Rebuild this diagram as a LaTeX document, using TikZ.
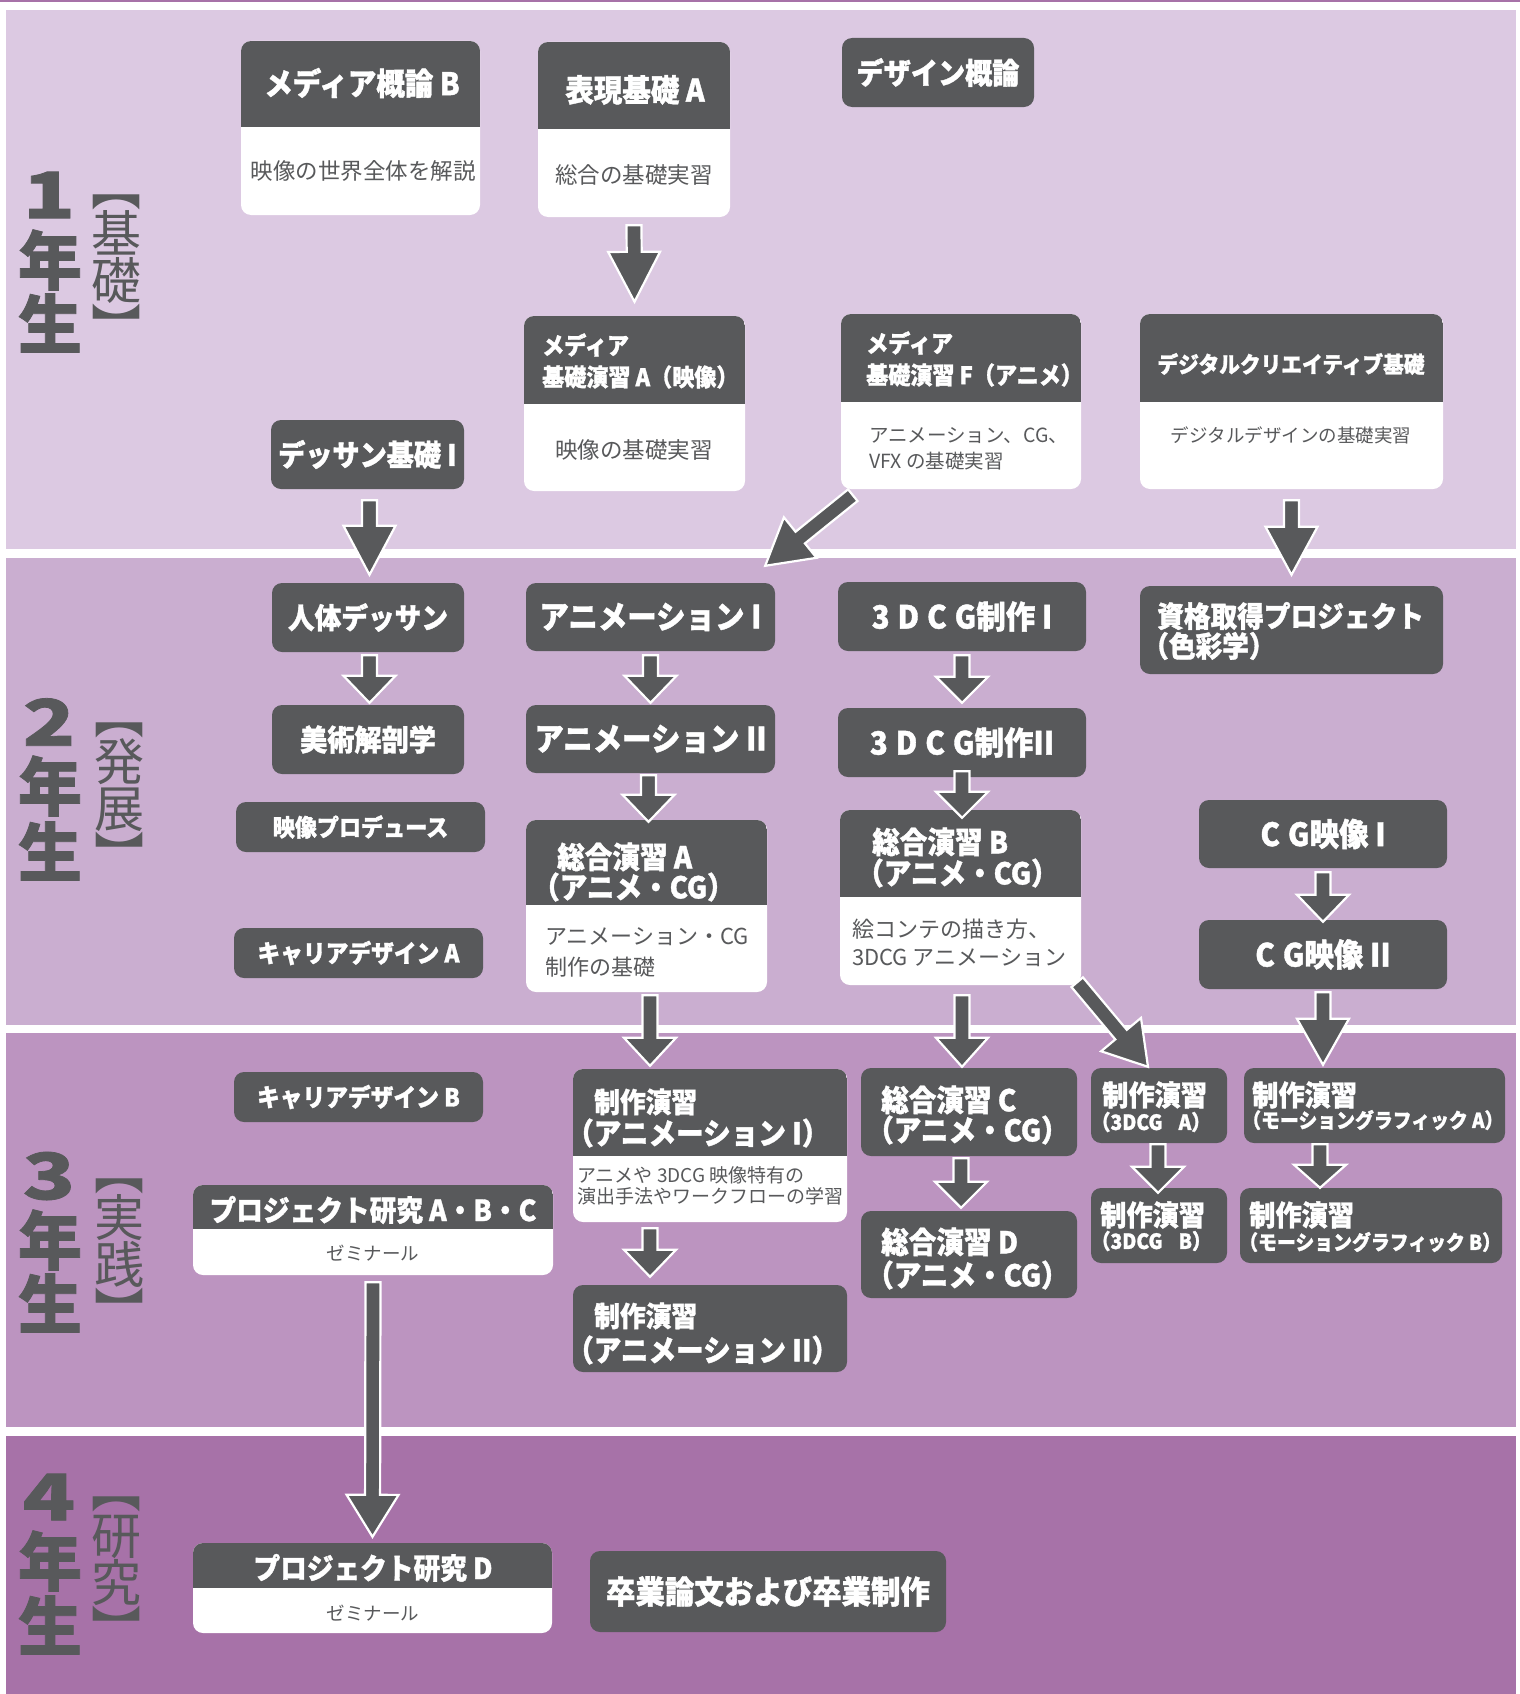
\documentclass[tikz,border=0pt]{standalone}
\usepackage{fontspec}
\setmainfont{Noto Sans CJK JP}[BoldFeatures={FakeBold=1.2}]
\newfontfamily\jpt{Noto Sans CJK JP}[FakeStretch=0.92, BoldFeatures={FakeBold=1.2}]
\newfontfamily\jpw{Noto Sans CJK JP}[FakeStretch=1.35, BoldFeatures={FakeBold=1.2}]
\usetikzlibrary{calc}
\definecolor{bandA}{HTML}{DCC9E2}
\definecolor{bandB}{HTML}{CAAED0}
\definecolor{bandC}{HTML}{BC94C0}
\definecolor{bandD}{HTML}{A772A8}
\definecolor{boxdark}{HTML}{58595B}
\tikzset{
  dbox/.style={fill=boxdark, rounded corners=10pt, inner sep=0pt, text=white, font=\jpt\bfseries\fontsize{#1}{#1}\selectfont},
  tbox/.style={fill=white, rounded corners=10pt, inner sep=0pt, path picture={\fill[boxdark, sharp corners] (path picture bounding box.north west) rectangle ([yshift=-#1]path picture bounding box.north east);}},
  tl/.style={text=white, inner sep=0pt, font=\jpt\bfseries\fontsize{#1}{#1}\selectfont},
  bl/.style={text=boxdark, inner sep=0pt, font=\fontsize{#1}{#1}\selectfont},
  yr/.style={text=boxdark, inner sep=0pt, font=\bfseries\fontsize{64}{64}\selectfont},
  yd/.style={text=boxdark, inner sep=0pt, font=\jpw\bfseries\fontsize{64}{64}\selectfont},
  br/.style={text=boxdark, inner sep=0pt, align=center, font=\fontsize{50}{47}\selectfont},
  barrow/.style={fill=boxdark, draw=white, line width=2.2pt, line join=miter},
}
\newcommand\DBox[7]{\node[dbox=#6, minimum width={(#4-#2)*1pt}, minimum height={(#5-#3)*1pt}] (#1) at ({(#2+#4)/2},{(#3+#5)/2}) {#7};}
\newcommand\TBox[6]{\node[tbox={(#6-#3)*1pt}, minimum width={(#4-#2)*1pt}, minimum height={(#5-#3)*1pt}] (#1) at ({(#2+#4)/2},{(#3+#5)/2}) {};}
\newcommand\BArrow[5]{%
  \coordinate (arA) at #1;
  \coordinate (arB) at #2;
  \coordinate (arC) at ($(arB)!#5!(arA)$);
  \filldraw[barrow] ($(arA)!#3!90:(arB)$) -- ($(arC)!#3!-90:(arA)$) -- ($(arC)!#4!-90:(arA)$) -- (arB) -- ($(arC)!#4!90:(arA)$) -- ($(arC)!#3!90:(arA)$) -- ($(arA)!#3!-90:(arB)$) -- cycle;}
\begin{document}
\begin{tikzpicture}[x=1pt,y=-1pt]
\useasboundingbox (0,0) rectangle (1520,1694);
\fill[white] (0,0) rectangle (1520,1694);
\fill[bandD] (0,0) rectangle (1520,2.5);
\fill[bandA] (6,10) rectangle (1516,549);
\fill[bandB] (6,558) rectangle (1516,1025);
\fill[bandC] (6,1033) rectangle (1516,1427);
\fill[bandD] (6,1436) rectangle (1516,1694);

% year labels
\node[yd] (y1n) at (49,195) {1};
\node[yr] (y1a) at (50,260) {年};
\node[yr] (y1b) at (50,323) {生};
\node[br] (k1) at (116,271) {︻\\基\\礎\\︼};

\node[yd] (y2n) at (49,722) {2};
\node[yr] (y2a) at (50,786) {年};
\node[yr] (y2b) at (50,851) {生};
\node[br] (k2) at (119,799) {︻\\発\\展\\︼};

\node[yd] (y3n) at (49,1176) {3};
\node[yr] (y3a) at (50,1240) {年};
\node[yr] (y3b) at (50,1303) {生};
\node[br] (k3) at (119,1255) {︻\\実\\践\\︼};

\node[yd] (y4n) at (49,1497) {4};
\node[yr] (y4a) at (50,1561) {年};
\node[yr] (y4b) at (50,1625) {生};
\node[br] (k4) at (116,1573) {︻\\研\\究\\︼};

% ---- year 1
\TBox{mediaB}{241}{41}{480}{215}{127}
\node[tl=31] (mediaB-t) at (362,83) {メディア概論 B};
\node[bl=22.5] (mediaB-b) at (363,171) {映像の世界全体を解説};
\TBox{hyogenA}{538}{42}{730}{217}{129}
\node[tl=31] (hyogenA-t) at (635,90) {表現基礎 A};
\node[bl=22.5] (hyogenA-b) at (634,175) {総合の基礎実習};
\DBox{designG}{842}{38}{1034}{107}{29.5}{デザイン概論}
\TBox{mediaA}{524}{316}{745}{491}{404}
\node[tl=24,anchor=west] (mediaA-t1) at (542,345) {メディア};
\node[tl=24,anchor=west] (mediaA-t2) at (542,377) {基礎演習 A（映像）};
\node[bl=22.5] (mediaA-b) at (634,450) {映像の基礎実習};
\TBox{mediaF}{841}{314}{1081}{489}{402}
\node[tl=24,anchor=west] (mediaF-t1) at (866,343) {メディア};
\node[tl=24,anchor=west] (mediaF-t2) at (866,375) {基礎演習 F（アニメ）};
\node[bl=19.5,anchor=west] (mediaF-b1) at (869,436) {アニメーション、CG、};
\node[bl=19.5,anchor=west] (mediaF-b2) at (869,461) {VFX の基礎実習};
\TBox{digital}{1140}{314}{1443}{489}{402}
\node[tl=22.5] (digital-t) at (1291,364) {デジタルクリエイティブ基礎};
\node[bl=18.5] (digital-b) at (1291,435) {デジタルデザインの基礎実習};
\DBox{dessinI}{271}{420}{464}{489}{29.5}{デッサン基礎 I}

% ---- year 2
\DBox{jintai}{272}{583}{464}{652}{29}{人体デッサン}
\DBox{bijutsu}{272}{705}{464}{774}{29.5}{美術解剖学}
\DBox{eizoP}{236}{802}{485}{852}{24}{映像プロデュース}
\DBox{careerA}{234}{928}{483}{978}{24.7}{キャリアデザイン A}
\DBox{animeI}{526}{583}{775}{651}{32}{アニメーション I}
\DBox{animeII}{526}{705}{775}{773}{32}{アニメーション II}
\TBox{sogoA}{526}{820}{767}{992}{905}
\node[tl=30,anchor=west] (sogoA-t1) at (557,857) {総合演習 A};
\node[tl=30,anchor=west] (sogoA-t2) at (532,887) {（アニメ・CG）};
\node[bl=22,anchor=west] (sogoA-b1) at (545,937) {アニメーション・CG};
\node[bl=22,anchor=west] (sogoA-b2) at (545,967) {制作の基礎};
\DBox{cg3dI}{838}{582}{1086}{651}{32}{3\hspace{8pt}D\hspace{8pt}C\hspace{8pt}G制作 I}
\DBox{cg3dII}{838}{708}{1086}{777}{32}{3\hspace{8pt}D\hspace{8pt}C\hspace{8pt}G制作II}
\TBox{sogoB}{840}{810}{1081}{985}{897}
\node[tl=30,anchor=west] (sogoB-t1) at (872,842) {総合演習 B};
\node[tl=30,anchor=west] (sogoB-t2) at (856,873) {（アニメ・CG）};
\node[bl=22,anchor=west] (sogoB-b1) at (852,929) {絵コンテの描き方、};
\node[bl=22,anchor=west] (sogoB-b2) at (852,958) {3DCG アニメーション};
\DBox{shikaku}{1140}{586}{1443}{674}{29}{}
\node[tl=29,anchor=west] (shikaku-t1) at (1157,616) {資格取得プロジェクト};
\node[tl=29,anchor=west] (shikaku-t2) at (1142,646) {（色彩学）};
\DBox{cgI}{1199}{800}{1447}{868}{32}{C\hspace{8pt}G映像 I}
\DBox{cgII}{1199}{920}{1447}{989}{32}{C\hspace{8pt}G映像 II}

% ---- year 3
\DBox{careerB}{234}{1072}{483}{1122}{24.7}{キャリアデザイン B}
\TBox{projABC}{193}{1185}{553}{1275}{1229}
\node[tl=29] (projABC-t) at (373,1210) {プロジェクト研究 A・B・C};
\node[bl=18.5] (projABC-b) at (373,1253) {ゼミナール};
\TBox{seisakuA1}{573}{1069}{847}{1222}{1156}
\node[tl=28,anchor=west] (seisakuA1-t1) at (594,1102) {制作演習};
\node[tl=30,anchor=west] (seisakuA1-t2) at (566,1133) {（アニメーション I）};
\node[bl=19,anchor=west] (seisakuA1-b1) at (577,1175) {アニメや 3DCG 映像特有の};
\node[bl=19,anchor=west] (seisakuA1-b2) at (577,1196) {演出手法やワークフローの学習};
\DBox{seisakuA2}{573}{1285}{847}{1372}{28}{}
\node[tl=28,anchor=west] (seisakuA2-t1) at (594,1316) {制作演習};
\node[tl=30,anchor=west] (seisakuA2-t2) at (566,1350) {（アニメーション II）};
\DBox{sogoC}{861}{1068}{1077}{1156}{30}{}
\node[tl=30,anchor=west] (sogoC-t1) at (881,1100) {総合演習 C};
\node[tl=30,anchor=west] (sogoC-t2) at (866,1130) {（アニメ・CG）};
\DBox{sogoD}{861}{1211}{1077}{1298}{30}{}
\node[tl=30,anchor=west] (sogoD-t1) at (881,1242) {総合演習 D};
\node[tl=30,anchor=west] (sogoD-t2) at (866,1275) {（アニメ・CG）};
\DBox{seisaku3A}{1091}{1068}{1227}{1143}{28}{}
\node[tl=28.5,anchor=west] (seisaku3A-t1) at (1102,1095) {制作演習};
\node[tl=21,anchor=west] (seisaku3A-t2) at (1091,1122) {（3DCG\hspace{16pt}A）};
\DBox{seisaku3B}{1091}{1188}{1227}{1263}{28}{}
\node[tl=28.5,anchor=west] (seisaku3B-t1) at (1100,1215) {制作演習};
\node[tl=21,anchor=west] (seisaku3B-t2) at (1091,1241) {（3DCG\hspace{16pt}B）};
\DBox{motionA}{1244}{1068}{1505}{1143}{28}{}
\node[tl=28.5,anchor=west] (motionA-t1) at (1252,1095) {制作演習};
\node[tl=20.5,anchor=west] (motionA-t2) at (1242,1120) {（モーショングラフィック A）};
\DBox{motionB}{1240}{1188}{1502}{1263}{28}{}
\node[tl=28.5,anchor=west] (motionB-t1) at (1249,1215) {制作演習};
\node[tl=20.5,anchor=west] (motionB-t2) at (1239,1242) {（モーショングラフィック B）};

% ---- year 4
\TBox{projD}{193}{1543}{552}{1633}{1588}
\node[tl=29] (projD-t) at (373,1568) {プロジェクト研究 D};
\node[bl=18.5] (projD-b) at (373,1613) {ゼミナール};
\DBox{sotsugyo}{590}{1551}{946}{1632}{32}{卒業論文および卒業制作}

% ---- arrows
\BArrow{($(hyogenA.south)+(0,8)$)}{($(mediaA.north)+(0,-14)$)}{7.5pt}{26pt}{50pt}
\BArrow{($(dessinI.south)+(2,11)$)}{($(jintai.north)+(1.5,-8)$)}{7.5pt}{26pt}{49pt}
\BArrow{($(mediaF.south west)+(12,6)$)}{($(animeI.north east)+(-10,-17)$)}{7.5pt}{26pt}{45pt}
\BArrow{($(digital.south)+(0,11)$)}{($(shikaku.north)+(0,-11)$)}{7.5pt}{26pt}{48pt}
\BArrow{($(jintai.south)+(1.5,3)$)}{($(bijutsu.north)+(1.5,-2)$)}{7.5pt}{26pt}{27pt}
\BArrow{($(animeI.south)+(0,4)$)}{($(animeII.north)+(0,-2)$)}{7.5pt}{26pt}{27pt}
\BArrow{($(animeII.south)+(-2,2)$)}{($(sogoA.north)+(2,2)$)}{7.5pt}{26pt}{27pt}
\BArrow{($(cg3dI.south)+(0,4)$)}{($(cg3dII.north)+(0,-5)$)}{7.5pt}{26pt}{26pt}
\BArrow{($(cg3dII.south)+(0,-6)$)}{($(sogoB.north)+(1.5,8)$)}{7.5pt}{26pt}{26pt}
\BArrow{($(sogoA.south)+(3.5,3)$)}{($(sogoA.south |- seisakuA1.north)+(3.5,-3)$)}{7.5pt}{26pt}{28pt}
\BArrow{($(sogoB.south east)+(-4,-3)$)}{($(seisaku3A.north)+(-11,-1)$)}{7.5pt}{26pt}{42pt}
\BArrow{($(sogoB.south)+(1.5,10)$)}{($(sogoB.south |- sogoC.north)+(1.5,-1)$)}{7.5pt}{26pt}{29pt}
\BArrow{($(cgI.south)+(0,4)$)}{($(cgII.north)+(0,2)$)}{7.5pt}{26pt}{27pt}
\BArrow{($(cgII.south)+(0,3)$)}{($(cgII.south |- motionA.north)+(0,-3)$)}{7.5pt}{26pt}{46pt}
\BArrow{($(projABC.south)+(0,7)$)}{($(projD.north)+(0,-6)$)}{7.5pt}{26pt}{42pt}
\BArrow{($(seisakuA1.south)+(-60,6)$)}{($(seisakuA1.south |- seisakuA2.north)+(-60,-8)$)}{7.5pt}{26pt}{27pt}
\BArrow{($(sogoC.south)+(-8,2)$)}{($(sogoC.south |- sogoD.north)+(-8,-3)$)}{7.5pt}{26pt}{26pt}
\BArrow{($(seisaku3A.south)+(-1,1)$)}{($(seisaku3B.north)+(-1,5)$)}{7.5pt}{26pt}{26pt}
\BArrow{($(motionA.south)+(-54.5,1)$)}{($(motionA.south |- motionB.north)+(-54.5,0)$)}{7.5pt}{26pt}{23pt}
\end{tikzpicture}
\end{document}
